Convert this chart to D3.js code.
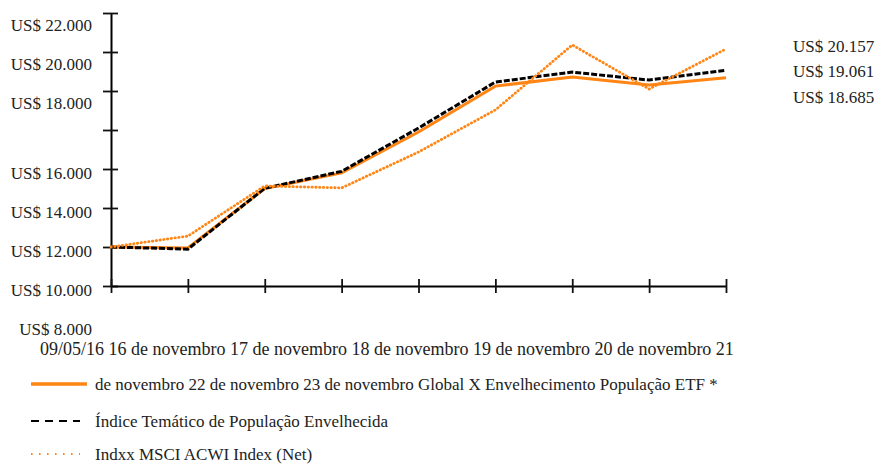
<!DOCTYPE html>
<html>
<head>
<meta charset="utf-8">
<script src="https://cdn.jsdelivr.net/npm/d3@7"></script>
<style>
  body { margin: 0; background: #fff; }
  text { font-family: "Liberation Serif", "Times New Roman", serif; fill: #222; }
</style>
</head>
<body>
<div class="chart"></div>
<script>
// data
var categories = ["09/05/16", "16 de novembro", "17 de novembro", "18 de novembro", "19 de novembro",
                  "20 de novembro", "21 de novembro", "22 de novembro", "23 de novembro"];
var seriesNames = ["Global X Envelhecimento População ETF *",
                   "Índice Temático de População Envelhecida",
                   "Indxx MSCI ACWI Index (Net)"];
var etfValues   = [10000, 9950, 13000, 13800, 15900, 18250, 18720, 18310, 18685];
var themeValues = [10000, 9890, 13010, 13880, 16100, 18460, 18970, 18560, 19061];
var msciValues  = [10000, 10560, 13130, 13030, 14870, 17030, 20360, 18100, 20157];
var yTicks = [8000, 10000, 12000, 14000, 16000, 18000, 20000, 22000];
var yLabels = [22000, 20000, 18000, 16000, 14000, 12000, 10000, 8000];
var endLabels = ["US$ 20.157", "US$ 19.061", "US$ 18.685"];

var W = 877, H = 464;
var margin = {top: 13, right: 151, bottom: 178, left: 111};

var svg = d3.select(".chart")
            .append("svg")
            .attr("width", W)
            .attr("height", H);

var x = d3.scalePoint()
          .domain(categories)
          .range([margin.left, W - margin.right]);

var y = d3.scaleLinear()
          .domain([8000, 22000])
          .range([H - margin.bottom, margin.top]);

function money(v) {
    return "US$ " + d3.format(",")(v).replace(/,/g, ".");
}

// Y axis, ticks crossing the line
svg.append("g")
   .attr("transform", "translate(" + margin.left + ",0)")
   .call(d3.axisLeft(y).tickValues(yTicks).tickSize(8).tickSizeOuter(0).tickFormat(""));
svg.append("g")
   .attr("transform", "translate(" + margin.left + ",0)")
   .call(d3.axisRight(y).tickValues(yTicks).tickSize(7).tickFormat(""))
   .select(".domain").remove();

// X axis, ticks crossing the line
svg.append("g")
   .attr("transform", "translate(0," + y(8000) + ")")
   .call(d3.axisBottom(x).tickSize(7).tickSizeOuter(0).tickFormat(""));
svg.append("g")
   .attr("transform", "translate(0," + y(8000) + ")")
   .call(d3.axisTop(x).tickSize(7).tickFormat(""))
   .select(".domain").remove();

svg.selectAll(".domain").attr("stroke", "#000").attr("stroke-width", 2);
svg.selectAll(".tick line").attr("stroke", "#111").attr("stroke-width", 1.8);

// y labels (shifted as in the source document)
svg.selectAll(".ylab")
   .data(yLabels)
   .enter().append("text")
   .attr("class", "ylab")
   .attr("x", margin.left - 19)
   .attr("y", function(d){ return d >= 18000 ? y(d) + 12 : y(d - 2000) + 4; })
   .attr("dy", "0.35em")
   .attr("text-anchor", "end")
   .style("font-size", "17px")
   .text(money);

// lines
var line = d3.line()
             .x(function(d, i){ return x(categories[i]); })
             .y(function(d){ return y(d); });

var orange = "#ff8514";

svg.append("path")
   .attr("d", line(etfValues))
   .attr("fill", "none")
   .attr("stroke", orange)
   .attr("stroke-width", 3);

svg.append("path")
   .attr("d", line(themeValues))
   .attr("fill", "none")
   .attr("stroke", "#000")
   .attr("stroke-width", 3)
   .attr("stroke-dasharray", "6,2");

svg.append("path")
   .attr("d", line(msciValues))
   .attr("fill", "none")
   .attr("stroke", orange)
   .attr("stroke-width", 2.8)
   .attr("stroke-linecap", "round")
   .attr("stroke-dasharray", "0.4,3.4");

// end values on the right
svg.selectAll(".endlab")
   .data(endLabels)
   .enter().append("text")
   .attr("class", "endlab")
   .attr("x", 793)
   .attr("y", function(d, i){ return 46 + i * 25.5; })
   .attr("dy", "0.35em")
   .style("font-size", "17px")
   .text(function(d){ return d; });

// category labels flow into the first legend line
var words = categories.join(" ").split(" ");
var cut = words.indexOf("21") + 1;
var line1 = words.slice(0, cut).join(" ");
var line2 = words.slice(cut).join(" ") + " " + seriesNames[0];

svg.append("text")
   .attr("x", 40)
   .attr("y", 349)
   .attr("dy", "0.35em")
   .style("font-size", "18px")
   .text(line1);

// legend
var legendRows = [
    {text: line2, stroke: orange, width: 3.5, dash: null, x2: 87, y: 384},
    {text: seriesNames[1], stroke: "#000", width: 2.2, dash: "8,6", x2: 80, y: 421},
    {text: seriesNames[2], stroke: orange, width: 1.8, dash: "1.5,6.5", x2: 80, y: 454}
];

var legend = svg.selectAll(".legend")
                .data(legendRows)
                .enter().append("g")
                .attr("class", "legend");

legend.append("line")
      .attr("x1", 31)
      .attr("x2", function(d){ return d.x2; })
      .attr("y1", function(d){ return d.y; })
      .attr("y2", function(d){ return d.y; })
      .attr("stroke", function(d){ return d.stroke; })
      .attr("stroke-width", function(d){ return d.width; })
      .attr("stroke-dasharray", function(d){ return d.dash; });

legend.append("text")
      .attr("x", 95)
      .attr("y", function(d){ return d.y; })
      .attr("dy", "0.35em")
      .style("font-size", "17px")
      .text(function(d){ return d.text; });
</script>
</body>
</html>
